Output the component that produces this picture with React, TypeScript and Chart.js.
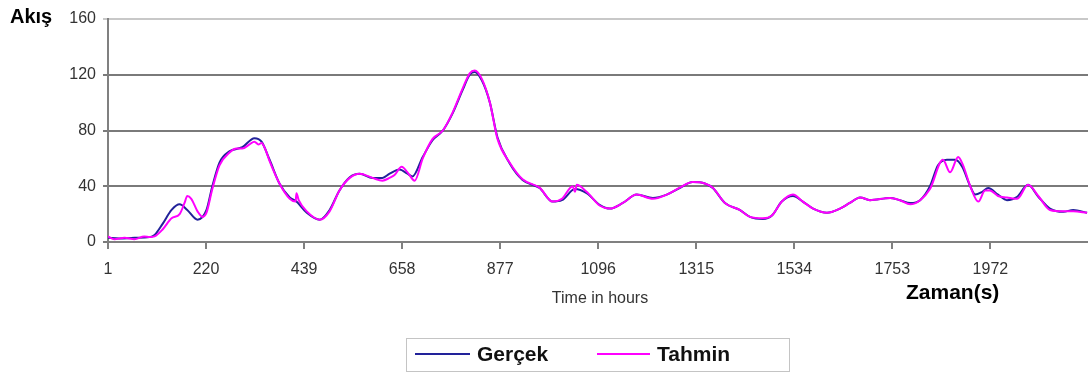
import React, { useEffect, useRef } from "react";
import { Chart, registerables } from "chart.js";

Chart.register(...registerables);

// Hours (x) and flow values (y)
const gercekHours = [1, 26, 60, 94, 105, 123, 143, 161, 178, 201, 221, 234, 250, 272, 301, 328, 344, 362, 384, 407, 422, 445, 474, 496, 518, 541, 563, 592, 614, 630, 652, 670, 681, 704, 726, 749, 771, 793, 809, 820, 836, 854, 871, 898, 927, 965, 994, 1015, 1044, 1070, 1100, 1122, 1151, 1182, 1218, 1249, 1278, 1307, 1334, 1352, 1379, 1412, 1435, 1464, 1484, 1506, 1531, 1553, 1576, 1607, 1636, 1658, 1681, 1703, 1748, 1770, 1793, 1815, 1837, 1855, 1875, 1893, 1909, 1927, 1938, 1954, 1967, 1989, 2009, 2032, 2056, 2079, 2105, 2135, 2157, 2188];
const gercekValues = [3, 2.5, 3, 3.5, 5, 13, 23, 27, 23, 16, 23, 40, 57, 65, 68, 74.5, 72, 59, 42, 32, 29, 21, 16, 23, 37, 46.5, 49, 46, 46, 49, 52, 49, 47, 61, 73, 80, 92.5, 109, 120, 122, 116, 100, 75, 56.5, 44.5, 38.7, 29, 30, 38, 35, 26.5, 24, 28, 34, 31.6, 34, 38.7, 43, 42, 38.7, 28, 23, 18, 16.5, 19, 29, 33, 29, 24, 21, 24, 28, 32, 30, 31.6, 30, 28, 30, 40, 55, 59, 59, 54, 40, 34, 36, 38.7, 34, 30, 32.5, 41, 32.5, 24, 21.7, 23, 21];

const tahminHours = [1, 15, 38, 60, 82, 94, 105, 123, 143, 161, 172, 178, 187, 201, 212, 221, 234, 250, 272, 288, 301, 317, 328, 337, 344, 353, 362, 384, 407, 420, 422, 427, 445, 474, 496, 518, 541, 563, 592, 614, 630, 641, 657, 670, 686, 704, 726, 749, 771, 793, 809, 820, 836, 854, 871, 898, 927, 965, 994, 1015, 1039, 1044, 1048, 1070, 1100, 1122, 1151, 1182, 1218, 1249, 1278, 1307, 1334, 1352, 1379, 1412, 1435, 1464, 1484, 1506, 1531, 1553, 1576, 1607, 1636, 1658, 1681, 1703, 1748, 1770, 1793, 1815, 1837, 1866, 1882, 1900, 1911, 1927, 1945, 1960, 1971, 1989, 2009, 2032, 2056, 2079, 2105, 2135, 2157, 2188];
const tahminValues = [4, 2, 3, 2, 4, 3.5, 4, 9, 17, 20, 28, 33, 31, 22, 18, 21, 38, 55, 64, 67, 67, 70, 72, 70, 71, 66, 58, 42, 31, 29, 35, 30, 22, 16, 22, 37, 46, 49, 46, 44, 46, 48, 54, 50, 44, 60, 74, 80, 93, 110, 121, 123, 117, 100, 74, 57, 45, 39, 29, 31, 40, 36, 41, 36, 26, 24, 28, 34, 31, 34, 39, 43, 42, 39, 28, 23, 18, 17, 19, 29, 34, 29, 24, 21, 24, 28, 32, 30, 31.6, 30, 27, 30, 38, 59, 50, 61, 55, 40, 29, 37, 37, 33, 32, 31, 41, 33, 23, 22, 22, 21];

const xTickLabels = [1, 220, 439, 658, 877, 1096, 1315, 1534, 1753, 1972];
const yTickLabels = [0, 40, 80, 120, 160];

const FONT = '"Liberation Sans", Arial, Helvetica, sans-serif';
const BLUE = "#22229a";
const PINK = "#ff00ff";

const annotations = {
  id: "annotations",
  afterDraw(chart: any) {
    const ctx = chart.ctx;
    ctx.save();
    ctx.fillStyle = "#000";
    ctx.textBaseline = "alphabetic";
    ctx.textAlign = "left";
    ctx.font = `bold 20px ${FONT}`;
    ctx.fillText("Akış", 10, 23);
    ctx.font = `bold 21px ${FONT}`;
    ctx.fillText("Zaman(s)", 906, 299);
    ctx.font = `16px ${FONT}`;
    ctx.fillStyle = "#333";
    ctx.textAlign = "center";
    ctx.fillText("Time in hours", 600, 303);

    // legend box
    ctx.strokeStyle = "#c4c4c4";
    ctx.lineWidth = 1;
    ctx.strokeRect(406.5, 338.5, 383, 33);
    const items = [
      { label: chart.data.datasets[1].label, color: BLUE, x0: 415, x1: 470, tx: 477 },
      { label: chart.data.datasets[0].label, color: PINK, x0: 597, x1: 650, tx: 657 },
    ];
    ctx.font = `bold 21px ${FONT}`;
    ctx.textAlign = "left";
    ctx.textBaseline = "middle";
    for (const it of items) {
      ctx.strokeStyle = it.color;
      ctx.lineWidth = 2;
      ctx.beginPath();
      ctx.moveTo(it.x0, 354);
      ctx.lineTo(it.x1, 354);
      ctx.stroke();
      ctx.fillStyle = "#111";
      ctx.fillText(it.label, it.tx, 355);
    }
    ctx.restore();
  },
};

export default function App() {
  const ref = useRef<HTMLCanvasElement | null>(null);
  useEffect(() => {
    if (!ref.current) return;
    const toPts = (xs: number[], ys: number[]) => xs.map((x, i) => ({ x, y: ys[i] }));
    const chart = new Chart(ref.current, {
      type: "line",
      data: {
        datasets: [
          {
            label: "Tahmin",
            data: toPts(tahminHours, tahminValues),
            borderColor: PINK,
            borderWidth: 2,
            pointRadius: 0,
            cubicInterpolationMode: "monotone",
            order: 0,
          },
          {
            label: "Gerçek",
            data: toPts(gercekHours, gercekValues),
            borderColor: BLUE,
            borderWidth: 2,
            pointRadius: 0,
            cubicInterpolationMode: "monotone",
            order: 1,
          },
        ],
      },
      options: {
        animation: false,
        responsive: false,
        devicePixelRatio: 1,
        layout: { padding: { top: 19, right: 0, bottom: 0, left: 0 } },
        plugins: { legend: { display: false }, tooltip: { enabled: false }, title: { display: false } },
        scales: {
          x: {
            type: "linear",
            min: 1,
            max: 2190,
            afterBuildTicks: (scale: any) => {
              scale.ticks = xTickLabels.map((v) => ({ value: v }));
            },
            afterFit: (scale: any) => {
              scale.height = 132;
            },
            ticks: {
              autoSkip: false,
              maxRotation: 0,
              padding: 11,
              color: "#333",
              font: { family: FONT, size: 16 },
              callback: (v: any) => String(v),
            },
            grid: {
              drawOnChartArea: false,
              drawTicks: true,
              tickLength: 7,
              color: "#808080",
              lineWidth: 2,
            },
            border: { display: true, color: "#808080", width: 2 },
          },
          y: {
            min: 0,
            max: 160,
            afterBuildTicks: (scale: any) => {
              scale.ticks = yTickLabels.map((v) => ({ value: v }));
            },
            afterFit: (scale: any) => {
              scale.width = 108;
            },
            ticks: {
              padding: 7,
              color: "#333",
              font: { family: FONT, size: 16 },
            },
            grid: {
              tickLength: 5,
              lineWidth: 2,
              color: (c: any) => (c.tick && c.tick.value === 160 ? "#c8c8c8" : "#7a7a7a"),
            },
            border: { display: true, color: "#808080", width: 2 },
          },
        },
      },
      plugins: [annotations],
    });
    return () => chart.destroy();
  }, []);
  return (
    <div style={{ position: "fixed", left: 0, top: 0, width: 1088, height: 374, background: "#fff" }}>
      <canvas ref={ref} width={1088} height={374} style={{ display: "block" }} />
    </div>
  );
}
